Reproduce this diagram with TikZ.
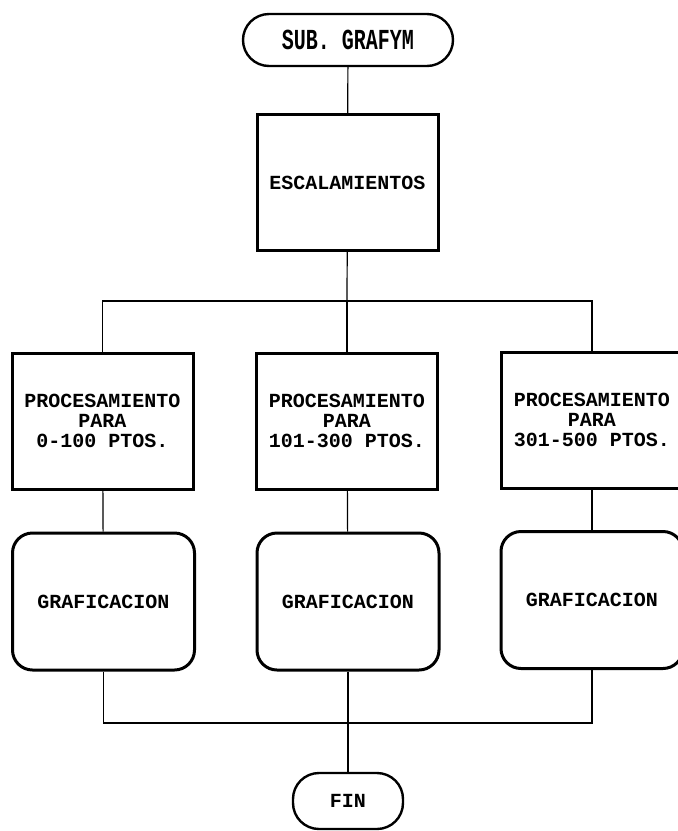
\documentclass[tikz,border=0pt]{standalone}
\usepackage{fontspec}
\setmonofont{Liberation Mono}
\usetikzlibrary{positioning}
\begin{document}
\begin{tikzpicture}[x=1pt,y=-1pt,
  every node/.style={font=\ttfamily\bfseries\fontsize{20}{20}\selectfont, align=center, inner sep=0pt},
  procbox/.style={draw, line width=3pt, minimum width=181, minimum height=136},
  graphbox/.style={draw, line width=3pt, rounded corners=20pt, minimum width=182, minimum height=137},
  term/.style={draw, line width=2.4pt, rounded corners=26pt},
  link/.style={line width=1.2pt}]
\useasboundingbox (0,0) rectangle (678,831);
\clip (0,0) rectangle (678,831);

% terminals
\node[term, minimum width=210, minimum height=52] (start) at (348,40)
  {\scalebox{1}[1.45]{SUB. GRAFYM}};
\node[term, minimum width=110, minimum height=56] (fin) at (348,801) {FIN};

% scaling step
\node[procbox] (esc) at (347.5,182.5) {ESCALAMIENTOS};

% processing branches
\node[procbox] (p1) at (102.5,421) {PROCESAMIENTO\\PARA\\0-100 PTOS.};
\node[procbox] (p2) at (347,421) {PROCESAMIENTO\\PARA\\101-300 PTOS.};
\node[procbox] (p3) at (592,420) {PROCESAMIENTO\\PARA\\301-500 PTOS.};

% plotting steps
\node[graphbox] (g1) at (103.5,601.5) {GRAFICACION};
\node[graphbox] (g2) at (348,601.5) {GRAFICACION};
\node[graphbox] (g3) at (592,600) {GRAFICACION};

% connectors
\coordinate (split) at (347,301);
\coordinate (join) at (347,723);
\draw[link] (start) -- (esc);
\draw[link] (esc) -- (split);
\draw[link] (p1.north) |- (split) -| (p3.north);
\draw[link] (split) -- (p2.north);
\draw[link] (p1) -- (g1);
\draw[link] (p2) -- (g2);
\draw[link] (p3) -- (g3);
\draw[link] (g1.south) |- (join) -| (g3.south);
\draw[link] (g2.south) -- (fin.north);
\end{tikzpicture}
\end{document}
